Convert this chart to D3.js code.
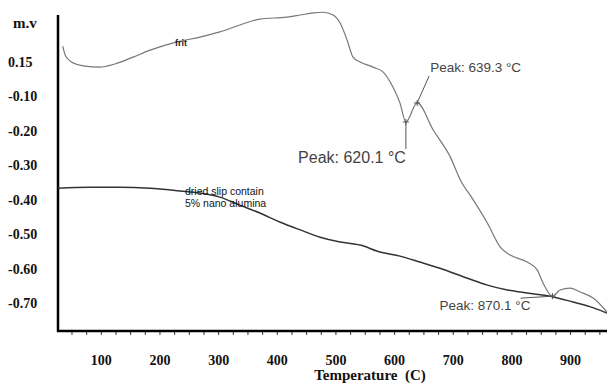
<!DOCTYPE html>
<html>
<head>
<meta charset="utf-8">
<script src="https://cdn.jsdelivr.net/npm/d3@7"></script>
<style>
  body { margin: 0; background: #fff; }
  svg { display: block; }
</style>
</head>
<body>
<div id="chart"></div>
<script>
const width = 607;
const height = 385;

// frit curve (temperature C, m.v)
const fritTemp = [35, 40, 50, 73, 98, 124, 155, 184, 230, 269, 303, 337, 371, 417, 440, 462, 479, 496, 508, 520, 530, 542, 564, 581, 598, 610, 620.1, 639.3, 667, 696, 713, 735, 759, 781, 798, 827, 844, 854, 870.1, 883, 900, 917, 940, 963];
const fritVal = [0.045, 0.016, -0.001, -0.013, -0.016, -0.007, 0.013, 0.033, 0.057, 0.071, 0.086, 0.106, 0.123, 0.129, 0.135, 0.141, 0.143, 0.135, 0.112, 0.062, 0.013, -0.001, -0.016, -0.030, -0.074, -0.120, -0.175, -0.120, -0.199, -0.277, -0.343, -0.401, -0.468, -0.538, -0.561, -0.581, -0.604, -0.642, -0.680, -0.662, -0.657, -0.668, -0.686, -0.726];

// dried slip contain 5% nano alumina
const slipTemp = [27, 81, 132, 184, 235, 269, 303, 337, 371, 405, 440, 474, 508, 542, 576, 610, 644, 678, 725, 759, 793, 827, 866, 905, 940, 963];
const slipVal = [-0.367, -0.364, -0.364, -0.367, -0.375, -0.381, -0.393, -0.416, -0.439, -0.465, -0.488, -0.509, -0.523, -0.532, -0.552, -0.564, -0.581, -0.599, -0.628, -0.648, -0.662, -0.671, -0.680, -0.697, -0.714, -0.729];

const xTicks = [100, 200, 300, 400, 500, 600, 700, 800, 900];
const yTicks = [0, -0.1, -0.2, -0.3, -0.4, -0.5, -0.6, -0.7];
const yTickLabels = ["0.15", "-0.10", "-0.20", "-0.30", "-0.40", "-0.50", "-0.60", "-0.70"];
const minorTicks = d3.range(50, 951, 25);

const peaks = [
  { t: 620.1, v: -0.175, label: "Peak: 620.1 °C" },
  { t: 639.3, v: -0.120, label: "Peak: 639.3 °C" },
  { t: 870.1, v: -0.680, label: "Peak: 870.1 °C" }
];

const svg = d3.select("#chart").append("svg")
  .attr("width", width)
  .attr("height", height);

const x = d3.scaleLinear().domain([27, 963]).range([58, 607]);
const y = d3.scaleLinear().domain([-0.781, 0.135]).range([331, 15]);

const serif = "'Liberation Serif', 'Times New Roman', serif";
const sans = "'Liberation Sans', Arial, sans-serif";

// eixo x: rótulos
const gx = svg.append("g")
  .attr("transform", `translate(0,${y.range()[0]})`)
  .call(d3.axisBottom(x).tickValues(xTicks).tickSize(0).tickPadding(24).tickSizeOuter(0));
gx.select(".domain").remove();
gx.selectAll("text")
  .attr("font-family", serif)
  .attr("font-weight", "bold")
  .attr("font-size", 14)
  .attr("fill", "#111");

// eixo x: marcas menores
const gm = svg.append("g")
  .attr("transform", `translate(0,${y.range()[0]})`)
  .call(d3.axisBottom(x).tickValues(minorTicks).tickSize(4).tickFormat("").tickSizeOuter(0));
gm.select(".domain").remove();
gm.selectAll("line").attr("stroke", "#333").attr("stroke-width", 1);

// eixo y
const gy = svg.append("g")
  .attr("transform", `translate(${x.range()[0]},0)`)
  .call(d3.axisLeft(y).tickValues(yTicks).tickSize(0)
    .tickFormat((d, i) => yTickLabels[i]));
gy.select(".domain").remove();
gy.selectAll("text")
  .attr("x", 8 - x.range()[0])
  .attr("text-anchor", "start")
  .attr("font-family", serif)
  .attr("font-weight", "bold")
  .attr("font-size", 14)
  .attr("fill", "#111");

// linhas dos eixos
svg.append("line")
  .attr("x1", x.range()[0]).attr("x2", x.range()[0])
  .attr("y1", y.range()[1]).attr("y2", y.range()[0] + 1)
  .attr("stroke", "#000").attr("stroke-width", 2.5);
svg.append("line")
  .attr("x1", x.range()[0] - 1).attr("x2", width)
  .attr("y1", y.range()[0]).attr("y2", y.range()[0])
  .attr("stroke", "#000").attr("stroke-width", 2.5);

svg.append("text")
  .attr("x", 13).attr("y", 28)
  .attr("font-family", serif).attr("font-weight", "bold").attr("font-size", 15)
  .attr("fill", "#111")
  .text("m.v");

svg.append("text")
  .attr("x", 370).attr("y", 380)
  .attr("text-anchor", "middle")
  .attr("xml:space", "preserve")
  .attr("font-family", serif).attr("font-weight", "bold").attr("font-size", 15)
  .attr("fill", "#111")
  .text("Temperature  (C)");

// curvas
const line = d3.line()
  .x(d => x(d[0]))
  .y(d => y(d[1]))
  .curve(d3.curveMonotoneX);

svg.append("path")
  .datum(slipTemp.map((t, i) => [t, slipVal[i]]))
  .attr("d", line)
  .attr("fill", "none")
  .attr("stroke", "#333")
  .attr("stroke-width", 1.5);

svg.append("path")
  .datum(fritTemp.map((t, i) => [t, fritVal[i]]))
  .attr("d", line)
  .attr("fill", "none")
  .attr("stroke", "#777")
  .attr("stroke-width", 1.2);

// rótulos das curvas
svg.append("text")
  .attr("x", 175).attr("y", 46)
  .attr("font-family", sans).attr("font-size", 9).attr("font-weight", "bold")
  .attr("fill", "#222")
  .text("frit");

svg.append("text")
  .attr("x", 185).attr("y", 195)
  .attr("font-family", sans).attr("font-size", 10.5)
  .attr("fill", "#111")
  .text("dried slip contain");
svg.append("text")
  .attr("x", 185).attr("y", 207)
  .attr("font-family", sans).attr("font-size", 10.5)
  .attr("fill", "#111")
  .text("5% nano alumina");

// picos
const pk = svg.append("g").attr("stroke", "#555").attr("stroke-width", 1);
peaks.forEach(p => {
  const px = x(p.t), py = y(p.v);
  pk.append("line").attr("x1", px - 3).attr("x2", px + 3).attr("y1", py).attr("y2", py);
  pk.append("line").attr("x1", px).attr("x2", px).attr("y1", py - 3).attr("y2", py + 3);
});

// 620.1
const p0 = peaks[0];
pk.append("line")
  .attr("x1", x(p0.t)).attr("x2", x(p0.t))
  .attr("y1", y(p0.v)).attr("y2", y(p0.v) + 27);
svg.append("text")
  .attr("x", x(p0.t)).attr("y", y(p0.v) + 41)
  .attr("text-anchor", "end")
  .attr("font-family", sans).attr("font-size", 16)
  .attr("fill", "#444")
  .text(p0.label);

// 639.3
const p1 = peaks[1];
pk.append("line")
  .attr("x1", x(p1.t)).attr("x2", x(p1.t) + 12)
  .attr("y1", y(p1.v)).attr("y2", y(p1.v) - 27);
svg.append("text")
  .attr("x", x(p1.t) + 13).attr("y", y(p1.v) - 31)
  .attr("font-family", sans).attr("font-size", 13.5)
  .attr("fill", "#444")
  .text(p1.label);

// 870.1
const p2 = peaks[2];
pk.append("line")
  .attr("x1", x(p2.t) - 32).attr("x2", x(p2.t))
  .attr("y1", y(p2.v) + 2).attr("y2", y(p2.v));
svg.append("text")
  .attr("x", x(p2.t) - 22).attr("y", y(p2.v) + 14)
  .attr("text-anchor", "end")
  .attr("font-family", sans).attr("font-size", 13.5)
  .attr("fill", "#444")
  .text(p2.label);
</script>
</body>
</html>
